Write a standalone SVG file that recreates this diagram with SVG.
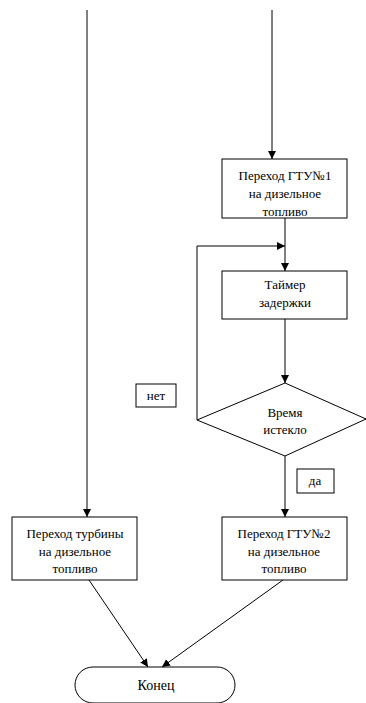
<svg xmlns="http://www.w3.org/2000/svg" width="366" height="703" viewBox="0 0 366 703">
<style>
.box{fill:#fff;stroke:#000;stroke-width:1}
.ln{fill:none;stroke:#000;stroke-width:1}
.t{font-family:"Times New Roman","Liberation Serif","DejaVu Serif",serif;font-size:13px;fill:#000;text-anchor:middle}
</style>
<defs>
<marker id="ah" viewBox="0 0 10 10" refX="10" refY="5" markerWidth="8" markerHeight="8" markerUnits="userSpaceOnUse" orient="auto">
<path d="M0,0 L10,5 L0,10 Z" fill="#000"/>
</marker>
</defs>
<rect width="366" height="703" fill="#fff"/>
<g id="connectors">
<line class="ln" x1="87" y1="10" x2="87" y2="517" marker-end="url(#ah)"/>
<line class="ln" x1="272" y1="10" x2="272" y2="159" marker-end="url(#ah)"/>
<line class="ln" x1="285" y1="218" x2="285" y2="271" marker-end="url(#ah)"/>
<polyline class="ln" points="197,420 197,246 285,246" marker-end="url(#ah)"/>
<line class="ln" x1="285" y1="319" x2="285" y2="383" marker-end="url(#ah)"/>
<line class="ln" x1="285" y1="456" x2="285" y2="517" marker-end="url(#ah)"/>
<line class="ln" x1="89" y1="580" x2="148" y2="667" marker-end="url(#ah)"/>
<line class="ln" x1="283" y1="580" x2="162" y2="667" marker-end="url(#ah)"/>
</g>
<g id="n_gtu1">
<rect class="box" x="222" y="159" width="125" height="59"/>
<text class="t" x="285" y="180">Переход ГТУ№1</text>
<text class="t" x="285" y="198">на дизельное</text>
<text class="t" x="285" y="216">топливо</text>
</g>
<g id="n_timer">
<rect class="box" x="222" y="271" width="125" height="48"/>
<text class="t" x="285" y="289">Таймер</text>
<text class="t" x="285" y="307">задержки</text>
</g>
<g id="n_decision">
<polygon class="box" points="285,383 366,419 285,456 197,420"/>
<text class="t" x="285" y="417">Время</text>
<text class="t" x="285" y="434">истекло</text>
</g>
<g id="l_net">
<rect class="box" x="136" y="384" width="40" height="23"/>
<text class="t" x="156" y="400">нет</text>
</g>
<g id="l_da">
<rect class="box" x="297" y="469" width="37" height="24"/>
<text class="t" x="315" y="485">да</text>
</g>
<g id="n_turbine">
<rect class="box" x="12" y="517" width="125" height="63"/>
<text class="t" x="75" y="538">Переход турбины</text>
<text class="t" x="75" y="556">на дизельное</text>
<text class="t" x="75" y="573">топливо</text>
</g>
<g id="n_gtu2">
<rect class="box" x="222" y="517" width="125" height="63"/>
<text class="t" x="284" y="538">Переход ГТУ№2</text>
<text class="t" x="284" y="556">на дизельное</text>
<text class="t" x="284" y="573">топливо</text>
</g>
<g id="n_end">
<rect class="box" x="75" y="667" width="160" height="36" rx="18" ry="18"/>
<text class="t" x="156" y="690" style="font-size:14px">Конец</text>
</g>
</svg>
